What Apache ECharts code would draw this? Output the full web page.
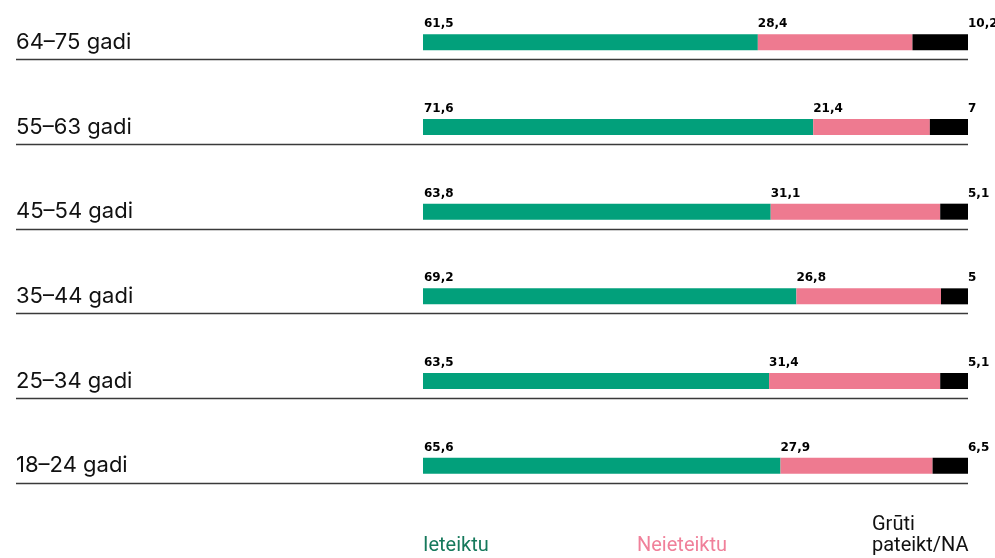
<!DOCTYPE html>
<html>
<head>
<meta charset="utf-8">
<script src="https://cdn.jsdelivr.net/npm/echarts@6/dist/echarts.min.js"></script>
<style>
  html, body { margin: 0; padding: 0; background: #fff; }
  #main { width: 995px; height: 558px; }
</style>
</head>
<body>
<div id="main"></div>
<script>
// vecuma grupas, no augšas uz leju
const groups = ['64–75 gadi', '55–63 gadi', '45–54 gadi', '35–44 gadi', '25–34 gadi', '18–24 gadi'];
const ieteiktu = [61.5, 71.6, 63.8, 69.2, 63.5, 65.6];
const neieteiktu = [28.4, 21.4, 31.1, 26.8, 31.4, 27.9];
const gruti = [10.2, 7, 5.1, 5, 5.1, 6.5];
const seriesNames = ['Ieteiktu', 'Neieteiktu', 'Grūti\npateikt/NA'];

const colors = ['#02a07b', '#ee7a90', '#000000'];
const legendColors = ['#16795c', '#f0809a', '#111111'];

// katra rinda tiek izstiepta līdz 100%
const totals = groups.map((g, i) => ieteiktu[i] + neieteiktu[i] + gruti[i]);
const share = arr => arr.map((v, i) => v / totals[i] * 100);
const fmt = v => String(v).replace('.', ',');

const valueFont = { fontFamily: 'DejaVu Sans', fontWeight: 'bold', fontSize: 12, color: '#000' };

function seg(name, raw, idx, labelPos) {
  return {
    name: name,
    type: 'bar',
    stack: 'total',
    barWidth: 16,
    itemStyle: { color: colors[idx] },
    label: Object.assign({
      show: true,
      position: labelPos,
      align: 'left',
      verticalAlign: 'top',
      formatter: p => fmt(raw[p.dataIndex])
    }, valueFont),
    emphasis: { disabled: true },
    data: share(raw)
  };
}

const chart = echarts.init(document.getElementById('main'));
const option = {
  animation: false,
  grid: { left: 423, right: 27, top: 0, height: 508 },
  xAxis: { type: 'value', min: 0, max: 100, show: false },
  yAxis: {
    type: 'category',
    inverse: true,
    data: groups,
    axisLine: { show: false },
    axisTick: { show: false },
    axisLabel: {
      margin: 407,
      align: 'left',
      fontFamily: 'Inter',
      fontSize: 22,
      color: '#111'
    }
  },
  legend: seriesNames.map((n, i) => ({
    data: [{ name: n, textStyle: { color: legendColors[i] } }],
    left: [418, 632, 867][i],
    top: i === 2 ? 514 : 535,
    icon: 'none',
    itemWidth: 0,
    itemGap: 0,
    padding: 0,
    selectedMode: false,
    textStyle: {
      fontFamily: 'Roboto',
      fontSize: 20,
      lineHeight: 21,
      padding: 0
    }
  })),
  series: [
    seg(seriesNames[0], ieteiktu, 0, [1, -16]),
    seg(seriesNames[1], neieteiktu, 1, [0, -16]),
    seg(seriesNames[2], gruti, 2, ['100%', -16])
  ]
};
chart.setOption(option);

// atdalītājlīnijas zem katras rindas
const xa = 16, xb = 968;
const lines = groups.map(g => {
  const y = Math.round(chart.convertToPixel({ yAxisIndex: 0 }, g) + 17) + 0.5;
  return {
    type: 'line',
    shape: { x1: xa, y1: y, x2: xb, y2: y },
    style: { stroke: '#3a3a3a', lineWidth: 1.5 },
    silent: true
  };
});
chart.setOption({ graphic: lines });
</script>
</body>
</html>
